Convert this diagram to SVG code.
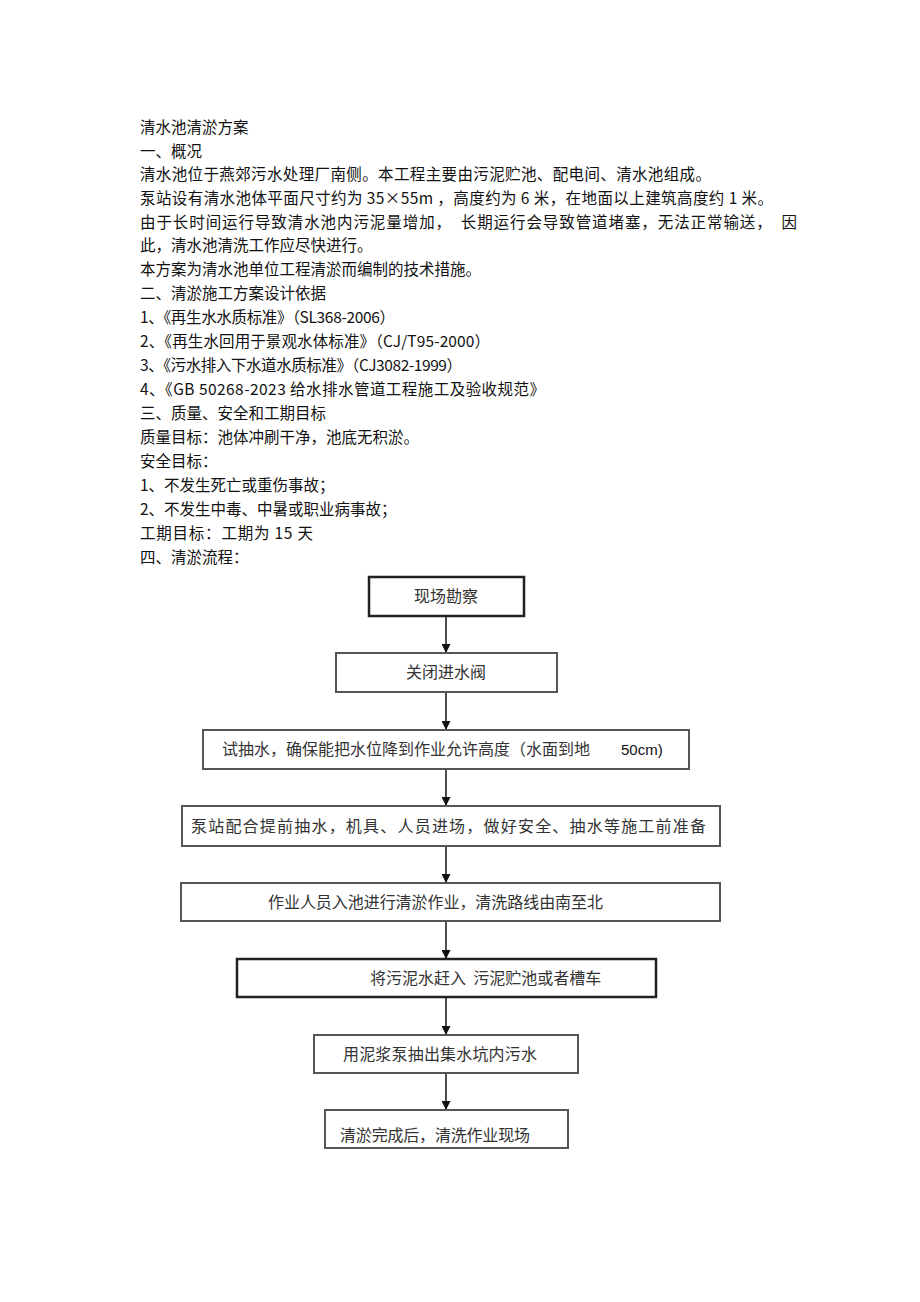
<svg xmlns="http://www.w3.org/2000/svg" width="920" height="1302" viewBox="0 0 920 1302">
<style>
.t{font-family:"Noto Sans CJK SC","Liberation Serif",serif;font-size:15.5px;fill:#111}
.b{fill:#fff;stroke:#555;stroke-width:2}
.bk{fill:#fff;stroke:#222;stroke-width:2.5}
.bt{font-family:"Noto Sans CJK SC","Liberation Sans",sans-serif;font-size:16px;fill:#333}
.c{stroke:#222;stroke-width:1.6;fill:none;marker-end:url(#ah)}
</style>
<defs>
<marker id="ah" viewBox="0 0 10 10" refX="10" refY="5" markerWidth="9" markerHeight="9" markerUnits="userSpaceOnUse" orient="auto">
<path d="M0,0 L10,5 L0,10 z" fill="#111"/>
</marker>
</defs>
<rect width="920" height="1302" fill="#fff"/>
<g id="body-text">
<text class="t" x="140" y="133">清水池清淤方案</text>
<text class="t" x="140" y="157">一、概况</text>
<text class="t" x="140" y="180" textLength="571" lengthAdjust="spacing">清水池位于燕郊污水处理厂南侧。本工程主要由污泥贮池、配电间、清水池组成。</text>
<text class="t" x="140" y="204" textLength="633" lengthAdjust="spacing" xml:space="preserve">泵站设有清水池体平面尺寸约为 35×55m ，高度约为 6 米，在地面以上建筑高度约 1 米。</text>
<text class="t" x="140" y="228" textLength="657" lengthAdjust="spacing" xml:space="preserve">由于长时间运行导致清水池内污泥量增加，  长期运行会导致管道堵塞，无法正常输送，  因</text>
<text class="t" x="140" y="251">此，清水池清洗工作应尽快进行。</text>
<text class="t" x="140" y="275">本方案为清水池单位工程清淤而编制的技术措施。</text>
<text class="t" x="140" y="299">二、清淤施工方案设计依据</text>
<text class="t" x="140" y="323" textLength="255" lengthAdjust="spacing">1、《再生水水质标准》（SL368-2006）</text>
<text class="t" x="140" y="347" textLength="350" lengthAdjust="spacing">2、《再生水回用于景观水体标准》（CJ/T95-2000）</text>
<text class="t" x="140" y="371" textLength="322" lengthAdjust="spacing">3、《污水排入下水道水质标准》（CJ3082-1999）</text>
<text class="t" x="140" y="395" textLength="405" lengthAdjust="spacing" xml:space="preserve">4、《GB 50268-2023 给水排水管道工程施工及验收规范》</text>
<text class="t" x="140" y="419">三、质量、安全和工期目标</text>
<text class="t" x="140" y="443">质量目标：池体冲刷干净，池底无积淤。</text>
<text class="t" x="140" y="467">安全目标：</text>
<text class="t" x="140" y="491">1、不发生死亡或重伤事故；</text>
<text class="t" x="140" y="515">2、不发生中毒、中暑或职业病事故；</text>
<text class="t" x="140" y="539" textLength="173" lengthAdjust="spacing" xml:space="preserve">工期目标：工期为 15 天</text>
<text class="t" x="140" y="563">四、清淤流程：</text>
</g>
<g id="connectors">
<line class="c" x1="446" y1="616" x2="446" y2="653"/>
<line class="c" x1="446" y1="692" x2="446" y2="730"/>
<line class="c" x1="446" y1="769" x2="446" y2="806"/>
<line class="c" x1="446" y1="846" x2="446" y2="883"/>
<line class="c" x1="446" y1="921" x2="446" y2="959"/>
<line class="c" x1="446" y1="997" x2="446" y2="1035"/>
<line class="c" x1="446" y1="1073" x2="446" y2="1110"/>
</g>
<g id="n1">
<rect class="bk" x="369" y="577" width="155" height="39"/>
<text class="bt" x="446" y="602" text-anchor="middle">现场勘察</text>
</g>
<g id="n2">
<rect class="b" x="336" y="653" width="221" height="39"/>
<text class="bt" x="446" y="678" text-anchor="middle">关闭进水阀</text>
</g>
<g id="n3">
<rect class="b" x="203" y="730" width="486" height="39"/>
<text class="bt" x="222" y="755" textLength="368" lengthAdjust="spacing">试抽水，确保能把水位降到作业允许高度（水面到地</text>
<text class="bt" x="621" y="755" style="font-family:'Liberation Sans',sans-serif;font-size:15px;fill:#111">50cm)</text>
</g>
<g id="n4">
<rect class="b" x="182" y="806" width="538" height="40"/>
<text class="bt" x="191" y="832" textLength="515" lengthAdjust="spacing">泵站配合提前抽水，机具、人员进场，做好安全、抽水等施工前准备</text>
</g>
<g id="n5">
<rect class="b" x="181" y="883" width="539" height="38"/>
<text class="bt" x="268" y="908" textLength="335" lengthAdjust="spacing">作业人员入池进行清淤作业，清洗路线由南至北</text>
</g>
<g id="n6">
<rect class="bk" x="237" y="959" width="419" height="38"/>
<text class="bt" x="370" y="984" xml:space="preserve">将污泥水赶入  污泥贮池或者槽车</text>
</g>
<g id="n7">
<rect class="b" x="314" y="1035" width="264" height="38"/>
<text class="bt" x="343" y="1060" textLength="194" lengthAdjust="spacing">用泥浆泵抽出集水坑内污水</text>
</g>
<g id="n8">
<rect class="b" x="325" y="1110" width="243" height="38"/>
<text class="bt" x="340" y="1141" textLength="190" lengthAdjust="spacing">清淤完成后，清洗作业现场</text>
</g>
</svg>
